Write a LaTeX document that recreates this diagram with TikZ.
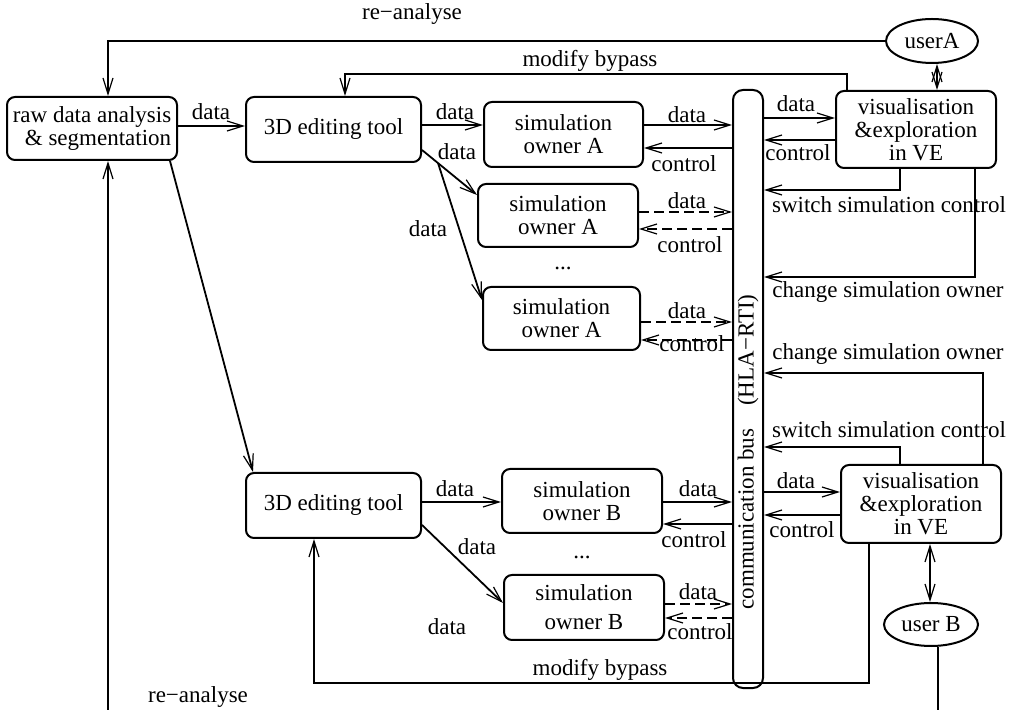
\documentclass[tikz,border=0pt]{standalone}
\usepackage{fontspec}
\setmainfont{Liberation Serif}
\usetikzlibrary{arrows.meta,shapes.geometric}

\begin{document}
\begin{tikzpicture}[x=0.5pt,y=-0.5pt,
  every node/.style={font=\fontsize{11.5}{11.5}\selectfont, inner sep=0pt},
  box/.style={draw, line width=1pt, rounded corners=4pt, align=center},
  user/.style={draw, ellipse, line width=1pt},
  lbl/.style={},
  conn/.style={line width=0.9pt},
  tip/.tip={Straight Barb[length=8pt,width=5pt,line width=0.6pt]},
  arr/.style={conn, -tip},
  darr/.style={conn, tip-tip},
  dsh/.style={arr, dash pattern=on 5pt off 2.5pt},
]
\useasboundingbox (0,0) rectangle (1012,710);

% ---- boxes ----
\node[box, minimum width=85pt, minimum height=31.5pt, align=right] (raw) at (92,128.5) {raw data analysis\\ \& segmentation};
\node[box, minimum width=87.5pt, minimum height=32.5pt] (A3d) at (333.5,129.5) {3D editing tool};
\node[box, minimum width=79.5pt, minimum height=32.5pt] (simA1) at (563.5,134.5) {simulation\\ owner A};
\node[box, minimum width=80pt, minimum height=31.5pt] (simA2) at (558,215.5) {simulation\\ owner A};
\node[box, minimum width=78.5pt, minimum height=31.5pt] (simA3) at (561.5,318.5) {simulation\\ owner A};
\node[box, minimum width=15pt, minimum height=299pt, rounded corners=5pt] (bus) at (748,389) {};
\node[rotate=90] (bustext) at (748,452) {communication bus\quad(HLA−RTI)};
\node[box, minimum width=80pt, minimum height=38.5pt] (visA) at (916,129.5) {visualisation\\ \&exploration\\ in VE};
\node[user, minimum width=46pt, minimum height=22pt] (userA) at (932,41) {userA};

\node[box, minimum width=87.5pt, minimum height=32.5pt] (B3d) at (333.5,505.5) {3D editing tool};
\node[box, minimum width=80pt, minimum height=32pt] (simB1) at (582,501) {simulation\\ owner B};
\node[box, minimum width=80pt, minimum height=32.5pt] (simB2) at (584,607.5) {simulation\\[3pt] owner B};
\node[box, minimum width=80pt, minimum height=39pt] (visB) at (921,504) {visualisation\\ \&exploration\\ in VE};
\node[user, minimum width=47pt, minimum height=21.5pt] (userB) at (931,624.5) {user B};

\node (dotsA) at (563,268) {...};
\node (dotsB) at (582,557) {...};

% ---- upper chain ----
\draw[arr] (raw.east |- 0,126) -- (A3d.west |- 0,126);
\node (l1) at (211,112) {data};
\draw[arr] (A3d.east |- 0,125) -- (simA1.west |- 0,125);
\node (l2) at (455,112) {data};
\draw[arr] (A3d.east |- 0,150) -- (simA2.west |- 0,195);
\node (l3) at (457,152) {data};
\draw[arr] (A3d.south -| 438,0) -- (simA3.west |- 0,300);
\node (l4) at (428,229) {data};

\draw[arr] (simA1.east |- 0,125) -- (bus.west |- 0,125);
\node (l5) at (687,115) {data};
\draw[arr] (bus.west |- 0,148) -- (simA1.east |- 0,148);
\node (l6) at (684,164) {control};
\draw[dsh] (simA2.east |- 0,212) -- (bus.west |- 0,212);
\node (l7) at (687,201) {data};
\draw[dsh] (bus.west |- 0,229) -- (simA2.east |- 0,229);
\node (l8) at (690,245) {control};
\draw[dsh] (simA3.east |- 0,322) -- (bus.west |- 0,322);
\node (l9) at (687,311) {data};
\draw[dsh] (bus.west |- 0,340) -- (simA3.east |- 0,340);
\node (l10) at (692,344) {control};

\draw[arr] (bus.east |- 0,118) -- (visA.west |- 0,118);
\node (l11) at (796,104) {data};
\draw[arr] (visA.west |- 0,140) -- (bus.east |- 0,140);
\node (l12) at (798,153) {control};

\draw[darr] (userA.south -| 937,0) -- (visA.north -| 937,0);
\draw[arr] (userA.west) -| (raw.north -| 108,0);
\node (l13) at (412,14) {re−analyse};
\draw[arr] (visA.north -| 847,0) -- ++(0,-16) -| (A3d.north -| 345,0);
\node (l14) at (590,61) {modify bypass};

\draw[arr] (visA.south -| 900,0) |- (bus.east |- 0,190);
\node (l15) at (889,205) {switch simulation control};
\draw[arr] (visA.south -| 975,0) |- (bus.east |- 0,277);
\node (l16) at (888,292) {change simulation owner};

% ---- lower chain ----
\draw[arr] (visB.north -| 983,0) |- (bus.east |- 0,373);
\node (l17) at (888,354) {change simulation owner};
\draw[arr] (visB.north -| 900,0) |- (bus.east |- 0,447);
\node (l18) at (889,430) {switch simulation control};

\draw[arr] (bus.east |- 0,492) -- (visB.west |- 0,492);
\node (l19) at (796,481) {data};
\draw[arr] (visB.west |- 0,515) -- (bus.east |- 0,515);
\node (l20) at (802,530) {control};
\draw[darr] (visB.south -| 930,0) -- (userB.north -| 930,0);
\coordinate (exitB) at (938,712);
\draw[conn] (userB.south -| 938,0) -- (exitB);
\draw[arr] (visB.south -| 869,0) -- (869,683) -| (B3d.south -| 314,0);
\node (l21) at (600,670) {modify bypass};

\draw[arr] (raw.south -| 170,0) -- (B3d.north -| 253,0);
\draw[arr] (B3d.east |- 0,502) -- (simB1.west |- 0,502);
\node (l22) at (455,489) {data};
\draw[arr] (B3d.east |- 0,525) -- (simB2.west |- 0,603);
\node (l23) at (477,547) {data};
\draw[arr] (simB1.east |- 0,502) -- (bus.west |- 0,502);
\node (l24) at (698,489) {data};
\draw[arr] (bus.west |- 0,524) -- (simB1.east |- 0,524);
\node (l25) at (694,540) {control};
\draw[dsh] (simB2.east |- 0,604) -- (bus.west |- 0,604);
\node (l26) at (698,592) {data};
\draw[dsh] (bus.west |- 0,618) -- (simB2.east |- 0,618);
\node (l27) at (700,632) {control};
\node (l28) at (447,627) {data};

\coordinate (exitL) at (108,712);
\draw[arr] (exitL) -- (raw.south -| 108,0);
\node (l29) at (198,697) {re−analyse};
\end{tikzpicture}
\end{document}
